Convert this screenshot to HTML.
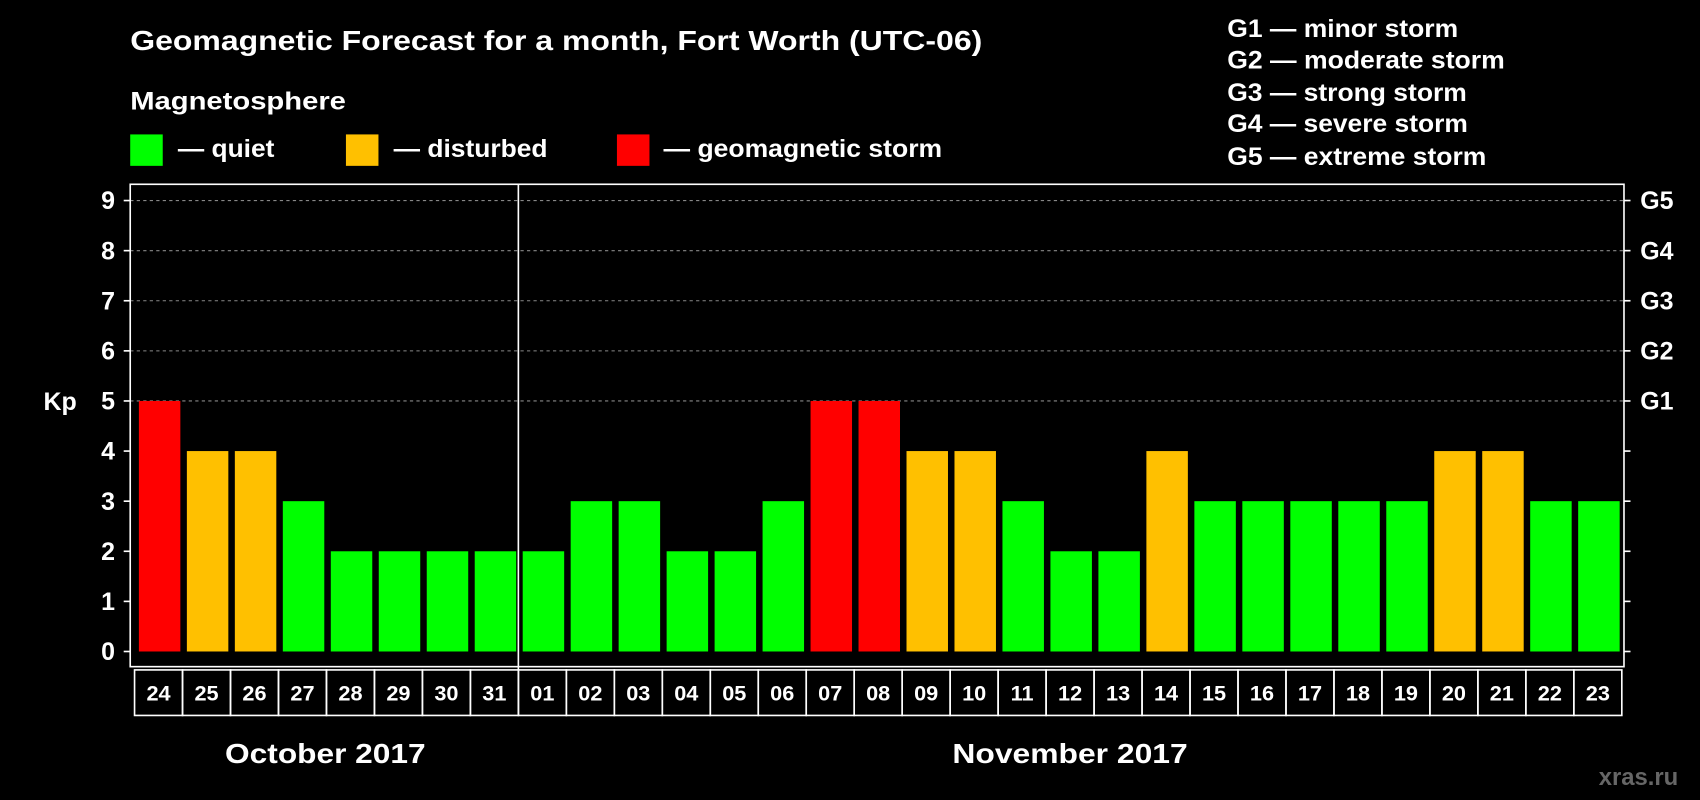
<!DOCTYPE html>
<html><head><meta charset="utf-8"><style>html,body{margin:0;padding:0;background:#000;}svg{display:block;font-family:"Liberation Sans",Arial,sans-serif;font-weight:bold;}</style></head>
<body>
<svg id="chart" width="1700" height="800" viewBox="0 0 1568 738" xmlns="http://www.w3.org/2000/svg">
<rect width="1568" height="738" fill="#000"/>
<text x="120" y="46" fill="#fff" font-size="26" textLength="786" lengthAdjust="spacingAndGlyphs">Geomagnetic Forecast for a month, Fort Worth (UTC-06)</text>
<text x="120" y="101" fill="#fff" font-size="23" textLength="199" lengthAdjust="spacingAndGlyphs">Magnetosphere</text>
<g>
<rect x="120" y="124" width="30" height="29" fill="#00ff00"/>
<text x="164" y="145" fill="#fff" font-size="23" textLength="89" lengthAdjust="spacingAndGlyphs">— quiet</text>
<rect x="319" y="124" width="30" height="29" fill="#ffc000"/>
<text x="363" y="145" fill="#fff" font-size="23" textLength="142" lengthAdjust="spacingAndGlyphs">— disturbed</text>
<rect x="569" y="124" width="30" height="29" fill="#ff0000"/>
<text x="612" y="145" fill="#fff" font-size="23" textLength="257" lengthAdjust="spacingAndGlyphs">— geomagnetic storm</text>
</g>
<g fill="#fff" font-size="23">
<text x="1132" y="34" textLength="213" lengthAdjust="spacingAndGlyphs">G1 — minor storm</text>
<text x="1132" y="63" textLength="256" lengthAdjust="spacingAndGlyphs">G2 — moderate storm</text>
<text x="1132" y="93" textLength="221" lengthAdjust="spacingAndGlyphs">G3 — strong storm</text>
<text x="1132" y="122" textLength="222" lengthAdjust="spacingAndGlyphs">G4 — severe storm</text>
<text x="1132" y="152" textLength="239" lengthAdjust="spacingAndGlyphs">G5 — extreme storm</text>
</g>
<text x="40" y="378" fill="#fff" font-size="23">Kp</text>
<g id="grid"></g>
<g id="bars"></g>
<g id="axes"></g>
<text x="300" y="704" fill="#fff" font-size="26" text-anchor="middle" textLength="185" lengthAdjust="spacingAndGlyphs">October 2017</text>
<text x="987" y="704" fill="#fff" font-size="26" text-anchor="middle" textLength="217" lengthAdjust="spacingAndGlyphs">November 2017</text>
<text x="1548" y="724" fill="#666" font-size="22" text-anchor="end">xras.ru</text>
</svg>
<script>
const days = ["24","25","26","27","28","29","30","31","01","02","03","04","05","06","07","08","09","10","11","12","13","14","15","16","17","18","19","20","21","22","23"];
const kpValues = [5,4,4,3,2,2,2,2,2,3,3,2,2,3,5,5,4,4,3,2,2,4,3,3,3,3,3,4,4,3,3];
const yTicks = [0,1,2,3,4,5,6,7,8,9];
const gLabels = ["","","","","","G1","G2","G3","G4","G5"];
const monthBreakIndex = 8;

const NS = "http://www.w3.org/2000/svg";
const plotL = 120, plotR = 1498, plotT = 170, plotB = 615;
const slot0 = 124, slotW = (1496 - 124) / days.length;
function y(v){ return 601 - v * (601 - 185) / 9; }
function xs(i){ return slot0 + i * slotW; }
function color(v){ return v >= 5 ? "#ff0000" : (v >= 4 ? "#ffc000" : "#00ff00"); }
function mk(tag, attrs, parent){ const e = document.createElementNS(NS, tag); for (const k in attrs) e.setAttribute(k, attrs[k]); parent.appendChild(e); return e; }

const grid = document.getElementById("grid"), bars = document.getElementById("bars"), axes = document.getElementById("axes");
yTicks.forEach(t => {
  if (t >= 5) {
    const l = mk("line", {x1: plotL, x2: plotR, y1: y(t), y2: y(t), stroke: "#888", "stroke-width": 1, "stroke-dasharray": "3,3"}, grid);
    
    
  }
});
kpValues.forEach((v, i) => {
  const r = mk("rect", {x: xs(i) + 4, y: y(v), width: slotW - 6, height: y(0) - y(v), fill: color(v)}, bars);
  
  
});
const frame = mk("rect", {x: plotL, y: plotT, width: plotR - plotL, height: plotB - plotT, fill: "none", stroke: "#fff", "stroke-width": 1.5}, axes);


yTicks.forEach((t, k) => {
  const tl = mk("line", {x1: plotL - 6, x2: plotL, y1: y(t), y2: y(t), stroke: "#fff", "stroke-width": 1.5}, axes);
  
  
  const tr = mk("line", {x1: plotR, x2: plotR + 6, y1: y(t), y2: y(t), stroke: "#fff", "stroke-width": 1.5}, axes);
  
  
  const lab = mk("text", {x: 106, y: y(t) + 8, fill: "#fff", "font-size": 23, "text-anchor": "end"}, axes);
  lab.textContent = t;
  
  
  if (gLabels[k]) {
    const g = mk("text", {x: 1513, y: y(t) + 8, fill: "#fff", "font-size": 23}, axes);
    g.textContent = gLabels[k];
    
    
  }
});
days.forEach((d, i) => {
  const c = mk("rect", {x: xs(i), y: 618, width: slotW, height: 42, fill: "none", stroke: "#fff", "stroke-width": 1.5}, axes);
  
  
  const t = mk("text", {x: xs(i) + slotW / 2, y: 646, fill: "#fff", "font-size": 20, "text-anchor": "middle"}, axes);
  t.textContent = d;
  
  
});
const div = mk("line", {x1: xs(monthBreakIndex), x2: xs(monthBreakIndex), y1: plotT, y2: 660, stroke: "#fff", "stroke-width": 1.5}, axes);


</script>
</body></html>
